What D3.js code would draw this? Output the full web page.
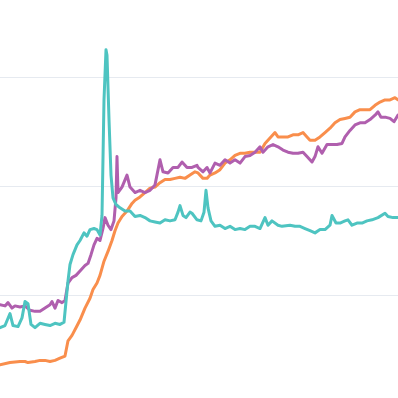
<!DOCTYPE html>
<html>
<head>
<meta charset="utf-8">
<script src="https://cdn.jsdelivr.net/npm/d3@7"></script>
<style>
  html, body { margin: 0; padding: 0; background: #fff; }
</style>
</head>
<body>
<div id="chart"></div>
<script>
// [day, value] readings for each series
var teal = [[0,70],[5,72],[10,83],[13,72],[18,71],[22,79],[25,94],[28,92],[31,73],[35,70],[40,74],[45,73],[50,72],[55,74],[60,73],[64,75],
  [68,113],[70,128],[73,137],[77,146],[80,150],[84,157],[87,154],[90,160],[94,161],[97,160],[100,155],[102,173],[104,279],[106,325],[107,320],
  [109,261],[111,210],[113,189],[116,183],[120,180],[125,177],[130,177],[135,172],[140,173],[145,171],[150,168],[155,167],[160,166],[165,169],
  [170,168],[175,169],[178,176],[180,182],[183,173],[186,171],[190,176],[192,175],[197,169],[201,168],[204,176],[206,196],[208,180],[211,168],
  [215,163],[220,164],[225,161],[230,163],[235,160],[240,161],[245,160],[250,163],[255,163],[260,161],[265,171],[268,164],[272,168],[278,164],
  [282,163],[290,164],[295,163],[300,163],[305,161],[310,159],[315,157],[320,160],[325,160],[330,164],[332,173],[336,166],[340,166],[345,168],
  [348,169],[352,164],[357,166],[362,166],[367,168],[372,169],[378,171],[385,175],[388,172],[393,171],[398,171]];

var purple = [[0,91],[5,90],[8,93],[12,88],[15,90],[20,89],[25,90],[30,86],[35,85],[40,85],[45,88],[50,91],[52,94],[55,88],[58,95],[62,93],
  [65,95],[68,111],[72,116],[76,118],[80,122],[85,127],[88,129],[91,137],[94,146],[97,152],[100,150],[103,161],[105,171],[108,164],[111,160],
  [114,168],[116,189],[117,227],[118,194],[122,199],[127,210],[130,199],[135,194],[140,196],[145,194],[150,196],[155,201],[160,224],[163,213],
  [168,212],[173,217],[178,217],[182,222],[187,217],[192,217],[197,219],[198,217],[203,213],[207,217],[210,212],[215,221],[220,219],[225,224],
  [230,221],[235,224],[240,221],[245,227],[250,228],[255,231],[260,236],[263,231],[268,236],[273,238],[278,236],[283,233],[288,231],[293,230],
  [298,230],[303,231],[307,227],[312,222],[315,227],[318,236],[322,230],[327,238],[332,238],[337,238],[342,239],[345,245],[350,251],[355,256],
  [360,258],[365,258],[370,261],[375,265],[378,268],[381,263],[386,263],[390,262],[394,259],[398,265]];

var orange = [[0,36],[10,38],[20,39],[25,39],[28,38],[35,39],[40,40],[45,40],[50,39],[55,40],[60,42],[65,44],[68,58],[72,63],[76,70],[80,77],
  [85,88],[90,97],[93,105],[97,111],[100,118],[104,131],[108,140],[112,150],[115,159],[118,166],[122,172],[127,177],[132,184],[135,187],
  [140,190],[145,194],[150,198],[155,199],[160,203],[165,206],[170,206],[175,207],[180,208],[185,207],[190,210],[195,213],[198,212],[203,207],
  [207,207],[210,210],[215,212],[220,215],[225,221],[230,224],[235,228],[240,230],[245,230],[250,231],[255,231],[260,231],[265,239],[270,244],
  [275,249],[278,245],[283,245],[288,245],[293,247],[298,247],[303,249],[307,245],[310,242],[315,242],[320,245],[325,249],[330,253],[335,258],
  [340,261],[345,262],[350,263],[355,268],[360,270],[365,270],[370,270],[375,274],[380,277],[385,279],[390,279],[395,281],[398,279]];

var gridValues = [100, 200, 300];

var width = 398, height = 398;

var svg = d3.select("#chart").append("svg")
  .attr("width", width)
  .attr("height", height);

var x = d3.scaleLinear().domain([0, 398]).range([0, width]);
var y = d3.scaleLinear().domain([100, 300]).range([295, 77]);

// gridlines only, axes are outside the crop
svg.append("g")
  .attr("transform", "translate(0,0)")
  .call(d3.axisLeft(y).tickValues(gridValues).tickSize(-width).tickFormat(""))
  .call(function (g) {
    g.select(".domain").remove();
    g.selectAll(".tick line").attr("stroke", "#e6eaf0").attr("stroke-width", 1.2);
  });

var line = d3.line()
  .x(function (d) { return x(d[0]); })
  .y(function (d) { return y(d[1]); });

var series = [
  { data: orange, color: "#f98e4c" },
  { data: purple, color: "#b05fae" },
  { data: teal, color: "#4ec4c1" }
];

series.forEach(function (s) {
  svg.append("path")
    .datum(s.data)
    .attr("fill", "none")
    .attr("stroke", s.color)
    .attr("stroke-width", 3)
    .attr("stroke-linejoin", "round")
    .attr("stroke-linecap", "round")
    .attr("d", line);
});
</script>
</body>
</html>
